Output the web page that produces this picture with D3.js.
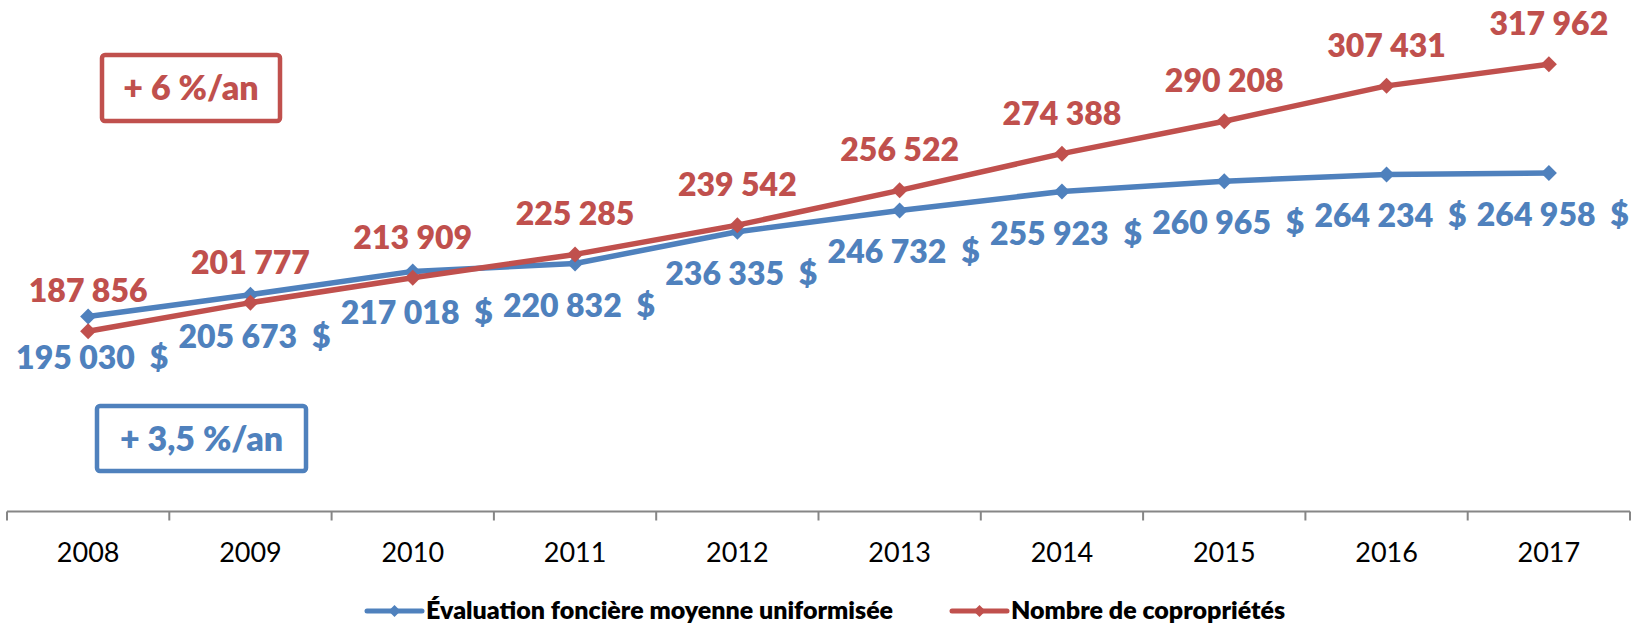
<!DOCTYPE html>
<html>
<head>
<meta charset="utf-8">
<script src="https://cdn.jsdelivr.net/npm/d3@7"></script>
<style>
  body { margin: 0; background: #fff; }
  svg { display: block; font-family: Lato, "Open Sans", sans-serif; }
  .lbl { white-space: pre; font-weight: 800; }
</style>
</head>
<body>
<div id="chart"></div>
<script>
// data
var years = ["2008", "2009", "2010", "2011", "2012", "2013", "2014", "2015", "2016", "2017"];
var evaluation = [195030, 205673, 217018, 220832, 236335, 246732, 255923, 260965, 264234, 264958];
var copros = [187856, 201777, 213909, 225285, 239542, 256522, 274388, 290208, 307431, 317962];
var seriesNames = ["Évaluation foncière moyenne uniformisée", "Nombre de copropriétés"];
var growthNotes = ["+ 3,5 %/an", "+ 6 %/an"];

var blue = "#4F81BD", red = "#C0504D";

var svgWidth = 1643, svgHeight = 623;
var svg = d3.select("#chart").append("svg")
    .attr("width", svgWidth)
    .attr("height", svgHeight);

var fr = d3.formatLocale({ decimal: ",", thousands: " ", grouping: [3], currency: ["", " $"] });
var fmt = fr.format(",d");

// scales
var x = d3.scaleBand().domain(years).range([7, 1630]);
var y = d3.scaleLinear().domain([100000, 350000]).range([511.5, -1.5]);
var cx = d => x(d) + x.bandwidth() / 2;

// x axis (ticks sit between categories like excel)
var axisY = y(100000);
var xAxis = svg.append("g")
    .attr("transform", `translate(0, ${axisY})`)
    .call(d3.axisBottom(x).tickSize(0).tickPadding(0));
xAxis.select(".domain").remove();
xAxis.selectAll("text")
    .attr("y", 50).attr("dy", 0)
    .attr("font-family", "Lato, sans-serif")
    .attr("font-size", 27)
    .attr("fill", "#000");

var bounds = years.map(d => x(d)).concat([x.range()[1]]);
svg.append("line")
    .attr("x1", bounds[0]).attr("x2", bounds[bounds.length - 1])
    .attr("y1", axisY).attr("y2", axisY)
    .attr("stroke", "#868686").attr("stroke-width", 2);
svg.selectAll(".tick-mark").data(bounds).enter().append("line")
    .attr("x1", d => d).attr("x2", d => d)
    .attr("y1", axisY).attr("y2", axisY + 9)
    .attr("stroke", "#868686").attr("stroke-width", 2);

// lines
var diamond = r => `M0,${-r}L${r},0L0,${r}L${-r},0Z`;

function drawSeries(vals, color) {
    var line = d3.line().x((d, i) => cx(years[i])).y(d => y(d));
    svg.append("path")
        .datum(vals)
        .attr("d", line)
        .attr("fill", "none")
        .attr("stroke", color)
        .attr("stroke-width", 5.5)
        .attr("stroke-linejoin", "round");
    svg.append("g").selectAll("path")
        .data(vals).enter().append("path")
        .attr("transform", (d, i) => `translate(${cx(years[i])}, ${y(d)})`)
        .attr("d", diamond(8))
        .attr("fill", color);
}
drawSeries(evaluation, blue);
drawSeries(copros, red);

// data labels
svg.append("g").selectAll("text")
    .data(copros).enter().append("text")
    .attr("class", "lbl")
    .attr("x", (d, i) => cx(years[i]))
    .attr("y", d => y(d) - 29)
    .attr("text-anchor", "middle")
    .attr("font-size", 32)
    .attr("fill", red)
    .text(d => fmt(d));

svg.append("g").selectAll("text")
    .data(evaluation).enter().append("text")
    .attr("class", "lbl")
    .attr("x", (d, i) => cx(years[i]) + 4)
    .attr("y", d => y(d) + 53)
    .attr("text-anchor", "middle")
    .attr("font-size", 32)
    .attr("fill", blue)
    .text(d => fmt(d) + "  $");

// growth boxes
function noteBox(bx, by, bw, bh, txt, color) {
    svg.append("rect")
        .attr("x", bx).attr("y", by)
        .attr("width", bw).attr("height", bh)
        .attr("rx", 3)
        .attr("fill", "#fff")
        .attr("stroke", color)
        .attr("stroke-width", 4.5);
    svg.append("text")
        .attr("class", "lbl")
        .attr("x", bx + bw / 2)
        .attr("y", by + bh / 2 + 12)
        .attr("text-anchor", "middle")
        .attr("font-size", 34)
        .attr("fill", color)
        .text(txt);
}
noteBox(102, 55, 178, 66, growthNotes[1], red);
noteBox(97, 406, 209, 65, growthNotes[0], blue);

// legend
var legend = [
    { name: seriesNames[0], color: blue, x: 367 },
    { name: seriesNames[1], color: red, x: 952 }
];
var lg = svg.append("g").selectAll("g")
    .data(legend).enter().append("g")
    .attr("transform", d => `translate(${d.x}, 611)`);
lg.append("line")
    .attr("x1", 0).attr("x2", 55)
    .attr("stroke", d => d.color)
    .attr("stroke-width", 5)
    .attr("stroke-linecap", "round");
lg.append("path")
    .attr("transform", "translate(27.5,0)")
    .attr("d", diamond(6))
    .attr("fill", d => d.color);
lg.append("text")
    .attr("x", 59)
    .attr("y", 8)
    .attr("font-size", 25)
    .attr("font-weight", 800)
    .attr("fill", "#000")
    .text(d => d.name);
</script>
</body>
</html>
